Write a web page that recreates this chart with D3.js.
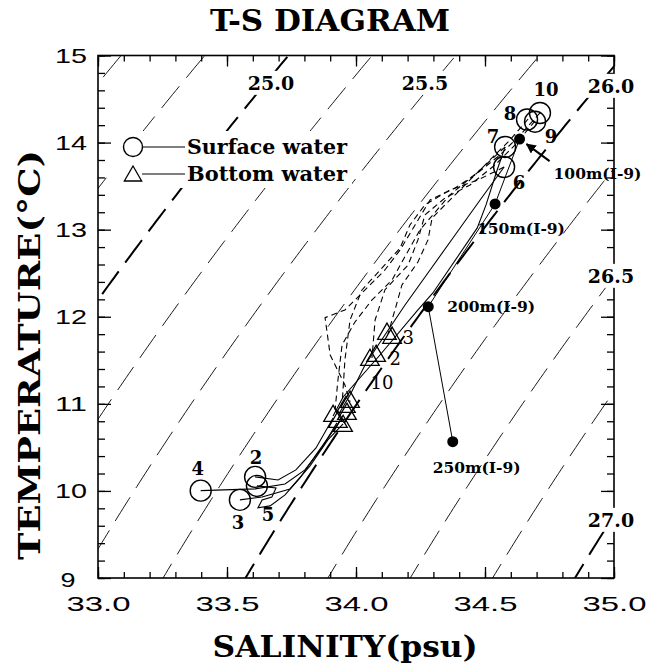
<!DOCTYPE html>
<html>
<head>
<meta charset="utf-8">
<script src="https://cdn.jsdelivr.net/npm/d3@7"></script>
<style>
  body { margin: 0; background: #fff; }
  .serifb { font-family: "DejaVu Serif", serif; font-weight: bold; }
  .tick text { font-family: "Liberation Sans", Arial, sans-serif; font-size: 21px; fill: #000; }
</style>
</head>
<body>
<svg id="chart" width="649" height="667"></svg>
<script>
// axis ranges
const salDomain = [33, 35];
const tempDomain = [9, 15];
const salMajor = [33.0, 33.5, 34.0, 34.5, 35.0];
const tempMajor = [9, 10, 11, 12, 13, 14, 15];

// sigma-t isopycnals
const sigmaLevels = [24.5, 24.75, 25.0, 25.25, 25.5, 25.75, 26.0, 26.25, 26.5, 26.75, 27.0];
const sigmaBold = [25.0, 26.0, 27.0];
const sigmaLabels = ["25.0", "25.5", "26.0", "26.5", "27.0"];

// surface water (circles)
const surfaceStation = ["10", "8", "9", "7", "6", "4", "2", "5", "3"];
const surfaceSal  = [34.713, 34.663, 34.694, 34.578, 34.574, 33.398, 33.609, 33.616, 33.550];
const surfaceTemp = [14.34, 14.265, 14.24, 13.95, 13.72, 10.003, 10.161, 10.058, 9.897];

// bottom water (triangles)
const bottomSal  = [34.120, 34.140, 34.054, 34.078, 33.977, 33.961, 33.911, 33.930, 33.950, 33.965];
const bottomTemp = [11.803, 11.757, 11.504, 11.550, 11.022, 10.964, 10.861, 10.792, 10.746, 10.884];
const bottomStation = ["3", "2", "10"];

// I-9 deep samples
const deepDepth = ["100m(I-9)", "150m(I-9)", "200m(I-9)", "250m(I-9)"];
const deepSal  = [34.634, 34.539, 34.280, 34.375];
const deepTemp = [14.04, 13.295, 12.116, 10.566];

// CTD traces, [salinity, temperature]
const solidProfiles = [
  [[34.578,13.95],[34.547,13.685],[34.504,13.284],[34.470,13.02],[34.298,12.273],[34.240,12.078],[34.093,11.561],[33.950,11.079],[33.911,10.861]],
  [[34.574,13.72],[34.481,13.341],[34.384,12.939],[34.287,12.537],[34.190,12.135],[34.112,11.791],[34.035,11.447],[33.977,11.102],[33.938,10.907]],
  [[33.398,10.003],[33.609,10.023],[33.725,10.080],[33.802,10.241],[33.868,10.494],[33.926,10.781]],
  [[33.609,10.161],[33.698,10.126],[33.767,10.241],[33.845,10.494],[33.911,10.838]],
  [[33.616,10.058],[33.690,10.034],[33.674,9.931],[33.636,9.897],[33.620,9.805],[33.667,9.828],[33.725,9.954],[33.783,10.149],[33.853,10.448],[33.938,10.804]],
  [[33.550,9.897],[33.636,9.931],[33.744,10.023],[33.822,10.287],[33.891,10.586],[33.950,10.770]]
];
const dashedProfiles = [
  [[34.667,14.271],[34.597,14.030],[34.519,13.800],[34.442,13.571],[34.345,13.284],[34.295,13.134],[34.279,12.882],[34.240,12.629],[34.178,12.365],[34.151,12.078],[34.124,11.803]],
  [[34.694,14.248],[34.616,13.972],[34.539,13.743],[34.442,13.513],[34.345,13.364],[34.267,13.169],[34.240,12.882],[34.202,12.595],[34.112,12.308],[34.074,11.963],[34.062,11.527]],
  [[34.713,14.340],[34.636,14.087],[34.558,13.858],[34.461,13.628],[34.384,13.479],[34.287,13.341],[34.229,13.054],[34.171,12.767],[34.112,12.537],[34.035,12.308],[33.957,12.078],[33.880,11.990],[33.900,11.561],[33.957,11.217],[33.977,11.022]],
  [[34.578,13.95],[34.481,13.685],[34.364,13.399],[34.248,12.997],[34.178,12.629],[34.140,12.423],[34.062,12.193],[33.996,11.940],[33.946,11.676],[33.930,11.274],[33.919,10.930]],
  [[34.574,13.72],[34.473,13.571],[34.364,13.456],[34.267,13.284],[34.209,13.054],[34.171,12.790],[34.101,12.560],[34.023,12.308],[33.977,11.963],[33.957,11.504],[33.946,10.987]]
];

const svg = d3.select("#chart");
const plotLeft = 98, plotRight = 614, plotTop = 55.5, plotBottom = 578;

const x = d3.scaleLinear().domain(salDomain).range([plotLeft, plotRight]);
const y = d3.scaleLinear().domain(tempDomain).range([plotBottom, plotTop]);

// UNESCO EOS-80 density at p=0, minus 1000
function sigmaT(S, T) {
  const rw = 999.842594 + 6.793952e-2*T - 9.095290e-3*T*T + 1.001685e-4*T**3
           - 1.120083e-6*T**4 + 6.536332e-9*T**5;
  const A = 8.24493e-1 - 4.0899e-3*T + 7.6438e-5*T*T - 8.2467e-7*T**3 + 5.3875e-9*T**4;
  const B = -5.72466e-3 + 1.0227e-4*T - 1.6546e-6*T*T;
  return rw + A*S + B*Math.pow(S, 1.5) + 4.8314e-4*S*S - 1000;
}
function salForSigma(sig, T) {
  let lo = 25, hi = 40;
  for (let i = 0; i < 50; i++) {
    const mid = (lo + hi) / 2;
    if (sigmaT(mid, T) < sig) lo = mid; else hi = mid;
  }
  return (lo + hi) / 2;
}

svg.append("defs").append("clipPath").attr("id", "plotclip")
  .append("rect").attr("x", plotLeft).attr("y", plotTop)
  .attr("width", plotRight - plotLeft).attr("height", plotBottom - plotTop);

const line = d3.line().x(d => x(d[0])).y(d => y(d[1]));

// isopycnals
const iso = svg.append("g").attr("clip-path", "url(#plotclip)");
const tSteps = d3.range(8.5, 15.55, 0.05);
sigmaLevels.forEach(s => {
  const pts = tSteps.map(t => [salForSigma(s, t), t]);
  const bold = sigmaBold.includes(s);
  iso.append("path")
    .attr("d", line(pts))
    .attr("fill", "none")
    .attr("stroke", "#000")
    .attr("stroke-width", bold ? 2 : 0.9)
    .attr("stroke-dasharray", "28,11");
});

// axes (ticks inward)
function styleAxis(g) { g.select(".domain").remove(); g.selectAll("line").attr("stroke", "#000").attr("stroke-width", 1.3); }
const salMinor = d3.range(0, 21).map(i => 33 + i * 0.1);
const tempMinor = d3.range(0, 31).map(i => 9 + i * 0.2);

svg.append("g").attr("transform", `translate(0,${plotBottom})`)
  .call(d3.axisBottom(x).tickValues(salMinor).tickSize(-6).tickFormat("")).call(styleAxis);
const xAx = svg.append("g").attr("transform", `translate(0,${plotBottom})`)
  .call(d3.axisBottom(x).tickValues(salMajor).tickSize(-11).tickPadding(18).tickFormat(d3.format(".1f"))).call(styleAxis);
xAx.selectAll("text").attr("font-size", 22).attr("font-weight", 300)
  .attr("textLength", 64).attr("lengthAdjust", "spacingAndGlyphs");

svg.append("g").attr("transform", `translate(0,${plotTop})`)
  .call(d3.axisTop(x).tickValues(salMinor).tickSize(-6).tickFormat("")).call(styleAxis);
svg.append("g").attr("transform", `translate(0,${plotTop})`)
  .call(d3.axisTop(x).tickValues(salMajor).tickSize(-11).tickFormat("")).call(styleAxis);

svg.append("g").attr("transform", `translate(${plotLeft},0)`)
  .call(d3.axisLeft(y).tickValues(tempMinor).tickSize(-7).tickFormat("")).call(styleAxis);
const yAx = svg.append("g").attr("transform", `translate(${plotLeft},0)`)
  .call(d3.axisLeft(y).tickValues(tempMajor).tickSize(-13).tickFormat(d3.format("d"))).call(styleAxis);
yAx.selectAll("text")
  .attr("font-size", 22).attr("font-weight", 300)
  .attr("x", d => d === 9 ? -30 : -27)
  .attr("y", d => d === 9 ? 2 : 0)
  .attr("text-anchor", "middle")
  .attr("textLength", d => d >= 10 ? 32 : 15)
  .attr("lengthAdjust", "spacingAndGlyphs");

svg.append("g").attr("transform", `translate(${plotRight},0)`)
  .call(d3.axisRight(y).tickValues(tempMinor).tickSize(-7).tickFormat("")).call(styleAxis);
svg.append("g").attr("transform", `translate(${plotRight},0)`)
  .call(d3.axisRight(y).tickValues(tempMajor).tickSize(-13).tickFormat("")).call(styleAxis);

svg.append("rect")
  .attr("x", plotLeft).attr("y", plotTop).attr("width", plotRight - plotLeft).attr("height", plotBottom - plotTop)
  .attr("fill", "none").attr("stroke", "#000").attr("stroke-width", 1.6);

// CTD traces
const traces = svg.append("g").attr("fill", "none").attr("stroke", "#000");
traces.selectAll(".solid").data(solidProfiles).join("path")
  .attr("class", "solid").attr("d", line).attr("stroke-width", 1.1);
traces.selectAll(".dash").data(dashedProfiles).join("path")
  .attr("class", "dash").attr("d", line).attr("stroke-width", 1.1).attr("stroke-dasharray", "6,4");

// I-9 deep profile
const deepPts = deepSal.map((s, i) => [s, deepTemp[i]]);
traces.append("path").attr("d", line(deepPts)).attr("stroke-width", 1);

// surface circles
svg.append("g").selectAll("circle").data(surfaceSal).join("circle")
  .attr("cx", d => x(d)).attr("cy", (d, i) => y(surfaceTemp[i])).attr("r", 10.5)
  .attr("fill", "none").attr("stroke", "#000").attr("stroke-width", 1.4);

const surfLabelOffset = { "10": [6, -23], "8": [-17, -6], "9": [16, 15], "7": [-12, -10], "6": [15, 16],
                          "4": [-3, -22], "2": [1, -19], "5": [11, 29], "3": [-2, 23] };
svg.append("g").selectAll("text").data(surfaceStation).join("text")
  .attr("class", "serifb")
  .attr("x", (d, i) => x(surfaceSal[i]) + surfLabelOffset[d][0])
  .attr("y", (d, i) => y(surfaceTemp[i]) + surfLabelOffset[d][1])
  .attr("dy", "0.36em").attr("text-anchor", "middle").attr("font-size", 18)
  .text(d => d);

// bottom triangles
const tri = d3.symbol(d3.symbolTriangle).size(150);
svg.append("g").selectAll("path").data(bottomSal).join("path")
  .attr("d", tri)
  .attr("transform", (d, i) => `translate(${x(d)},${y(bottomTemp[i])})`)
  .attr("fill", "none").attr("stroke", "#000").attr("stroke-width", 1.3);

const bottomLabelAt = [1, 3, 4];
const bottomLabelOffset = [[16, 0], [19, 3], [32, -19]];
svg.append("g").selectAll("text").data(bottomStation).join("text")
  .attr("x", (d, i) => x(bottomSal[bottomLabelAt[i]]) + bottomLabelOffset[i][0])
  .attr("y", (d, i) => y(bottomTemp[bottomLabelAt[i]]) + bottomLabelOffset[i][1])
  .attr("dy", "0.36em").attr("text-anchor", "middle")
  .attr("font-family", "DejaVu Serif, serif").attr("font-size", 18)
  .text(d => d);

// I-9 dots and labels
svg.append("g").selectAll("circle").data(deepSal).join("circle")
  .attr("cx", d => x(d)).attr("cy", (d, i) => y(deepTemp[i])).attr("r", 5.5).attr("fill", "#000");
const deepLabelOffset = [[34, 34], [-18, 24], [19, 0], [-20, 26]];
svg.append("g").selectAll("text").data(deepDepth).join("text")
  .attr("class", "serifb").attr("font-size", 15.5)
  .attr("x", (d, i) => x(deepSal[i]) + deepLabelOffset[i][0])
  .attr("y", (d, i) => y(deepTemp[i]) + deepLabelOffset[i][1])
  .attr("dy", "0.36em")
  .text(d => d);

// arrow to 100m
svg.append("defs").append("marker").attr("id", "arrowhead")
  .attr("viewBox", "0 0 10 10").attr("refX", 9).attr("refY", 5)
  .attr("markerWidth", 5).attr("markerHeight", 5).attr("orient", "auto")
  .append("path").attr("d", "M0,0L10,5L0,10z").attr("fill", "#000");
const d100 = [x(deepSal[0]), y(deepTemp[0])];
svg.append("line")
  .attr("x1", d100[0] + 30).attr("y1", d100[1] + 22)
  .attr("x2", d100[0] + 7).attr("y2", d100[1] + 5)
  .attr("stroke", "#000").attr("stroke-width", 2).attr("marker-end", "url(#arrowhead)");

// isopycnal labels with white boxes
const sigLabelPos = [[271, 83], [425, 83], [611, 86], [611, 276], [611, 520]];
const sigG = svg.append("g");
sigmaLabels.forEach((t, i) => {
  const g = sigG.append("g");
  const txt = g.append("text").attr("class", "serifb").attr("font-size", 19)
    .attr("x", sigLabelPos[i][0]).attr("y", sigLabelPos[i][1]).attr("dy", "0.36em")
    .attr("text-anchor", "middle").text(t);
  const bb = txt.node().getBBox();
  g.insert("rect", "text").attr("x", bb.x - 2).attr("y", bb.y - 1).attr("width", bb.width + 4)
    .attr("height", bb.height + 2).attr("fill", "#fff");
});

// legend
const leg = svg.append("g");
leg.append("rect").attr("x", 112).attr("y", 131).attr("width", 240).attr("height", 57).attr("fill", "#fff");
leg.append("circle").attr("cx", 133).attr("cy", 147).attr("r", 9.5)
  .attr("fill", "none").attr("stroke", "#000").attr("stroke-width", 1.4);
leg.append("line").attr("x1", 143).attr("x2", 185).attr("y1", 147).attr("y2", 147).attr("stroke", "#000").attr("stroke-width", 1.1);
leg.append("path").attr("d", d3.symbol(d3.symbolTriangle).size(130)).attr("transform", "translate(133,176)")
  .attr("fill", "none").attr("stroke", "#000").attr("stroke-width", 1.3);
leg.append("line").attr("x1", 142).attr("x2", 185).attr("y1", 174).attr("y2", 174).attr("stroke", "#000").attr("stroke-width", 1.1);
leg.append("text").attr("class", "serifb").attr("font-size", 20).attr("x", 187).attr("y", 154)
  .attr("textLength", 160).attr("lengthAdjust", "spacingAndGlyphs").text("Surface water");
leg.append("text").attr("class", "serifb").attr("font-size", 20).attr("x", 187).attr("y", 181)
  .attr("textLength", 160).attr("lengthAdjust", "spacingAndGlyphs").text("Bottom water");

// titles
svg.append("text").attr("class", "serifb").attr("font-size", 30)
  .attr("x", 330).attr("y", 31).attr("text-anchor", "middle")
  .attr("textLength", 240).attr("lengthAdjust", "spacingAndGlyphs").text("T-S DIAGRAM");
svg.append("text").attr("class", "serifb").attr("font-size", 30)
  .attr("x", 345).attr("y", 657).attr("text-anchor", "middle")
  .attr("textLength", 265).attr("lengthAdjust", "spacingAndGlyphs").text("SALINITY(psu)");
svg.append("text").attr("class", "serifb").attr("font-size", 30)
  .attr("transform", "translate(40,355) rotate(-90)").attr("text-anchor", "middle")
  .attr("textLength", 410).attr("lengthAdjust", "spacingAndGlyphs").text("TEMPERATURE(°C)");
</script>
</body>
</html>
